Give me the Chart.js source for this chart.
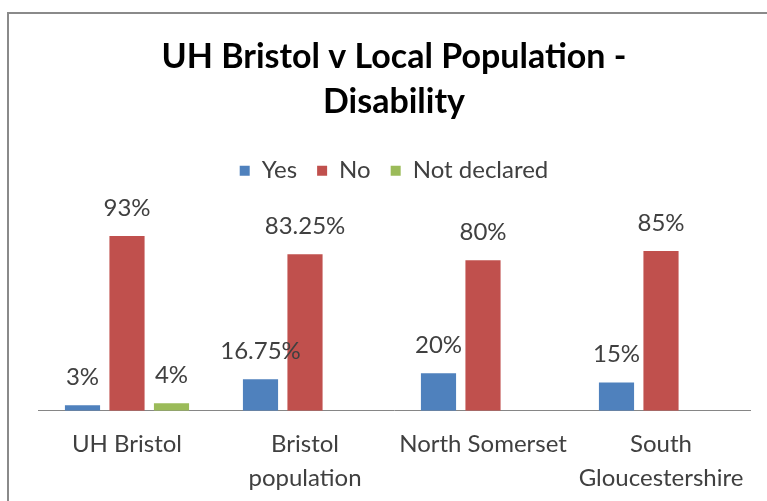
<!DOCTYPE html>
<html>
<head>
<meta charset="utf-8">
<script src="https://cdn.jsdelivr.net/npm/chart.js@4.4.0/dist/chart.umd.min.js"></script>
<style>
  body { margin: 0; background: #fff; }
  #wrap { width: 767px; height: 501px; }
</style>
</head>
<body>
<div id="wrap"><canvas id="grafico" width="767" height="501"></canvas></div>
<script>
// datos
const categorias = [["UH Bristol"], ["Bristol", "population"], ["North Somerset"], ["South", "Gloucestershire"]];
const si = [3, 16.75, 20, 15];
const no = [93, 83.25, 80, 85];
const noDeclarado = [4, null, null, null];

const colores = ["#4F81BD", "#C0504D", "#9BBB59"];
const fuente = "Lato";

// marco gris del gráfico
const marco = {
  id: "marco",
  beforeDraw(chart) {
    const ctx = chart.ctx;
    ctx.save();
    ctx.fillStyle = "#fff";
    ctx.fillRect(0, 0, chart.width, chart.height);
    ctx.strokeStyle = "#8a8a8a";
    ctx.lineWidth = 2;
    ctx.strokeRect(8, 13, 800, 600);
    ctx.restore();
  }
};

// espacio extra debajo de la leyenda
const espacioLeyenda = {
  id: "espacioLeyenda",
  beforeInit(chart) {
    const fit = chart.legend.fit;
    chart.legend.fit = function () {
      fit.bind(chart.legend)();
      this.height += 30;
    };
  }
};

// etiquetas de porcentaje encima de cada barra
const etiquetas = {
  id: "etiquetas",
  afterDatasetsDraw(chart) {
    const ctx = chart.ctx;
    ctx.save();
    ctx.font = "24px " + fuente;
    ctx.fillStyle = "#404040";
    ctx.textAlign = "center";
    ctx.textBaseline = "middle";
    chart.data.datasets.forEach((ds, i) => {
      chart.getDatasetMeta(i).data.forEach((bar, j) => {
        const v = ds.data[j];
        if (v === null || v === undefined) return;
        ctx.fillText(v + "%", bar.x, bar.y - 28);
      });
    });
    ctx.restore();
  }
};

new Chart(document.getElementById("grafico"), {
  type: "bar",
  data: {
    labels: categorias,
    datasets: [
      { label: "Yes", data: si, backgroundColor: colores[0] },
      { label: "No", data: no, backgroundColor: colores[1] },
      { label: "Not declared", data: noDeclarado, backgroundColor: colores[2] }
    ]
  },
  options: {
    responsive: false,
    animation: false,
    layout: { padding: { left: 38, right: 17, top: 0, bottom: -11 } },
    datasets: { bar: { categoryPercentage: 0.75, barPercentage: 0.79 } },
    scales: {
      x: {
        grid: { display: false, drawTicks: false },
        border: { display: true, color: "#868686", width: 1 },
        ticks: { color: "#404040", padding: 17, font: { family: fuente, size: 24, lineHeight: 1.4 } }
      },
      y: { display: false, min: 0, max: 100 }
    },
    plugins: {
      title: {
        display: true,
        text: ["UH Bristol v Local Population -", "Disability"],
        color: "#000",
        font: { family: fuente, size: 34, weight: "bold", lineHeight: 1.32 },
        padding: { top: 35, bottom: 14 }
      },
      legend: {
        position: "top",
        labels: { color: "#404040", boxWidth: 10, boxHeight: 10, padding: 20, font: { family: fuente, size: 24 } }
      },
      tooltip: { enabled: false }
    }
  },
  plugins: [marco, espacioLeyenda, etiquetas]
});
</script>
</body>
</html>
